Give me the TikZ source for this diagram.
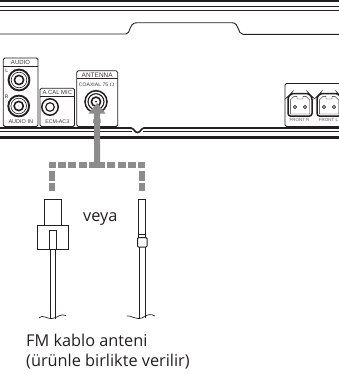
\documentclass[tikz,border=0pt]{standalone}
\usepackage{fontspec}
\setmainfont{Open Sans}
\newfontfamily\labfont{Liberation Sans}
\definecolor{ink}{HTML}{231F20}
\definecolor{arrowgray}{HTML}{8C8C8C}
\tikzset{
  panel/.style={draw=ink,line width=0.8pt,rounded corners=1.5pt},
  wire/.style={draw=ink,line width=1pt},
  band/.style={draw=ink,line width=#1},
  tiny/.style={font=\labfont\fontsize{#1}{#1}\selectfont,text=ink!90,inner sep=0pt},
  caption/.style={font=\fontsize{16.3}{20}\selectfont,text=ink,inner sep=0pt,anchor=base west},
  pointer/.style={draw=arrowgray,line width=5.6pt,dash pattern=on 8pt off 2.3pt},
  pointerend/.style={draw=arrowgray,line width=6pt,dash pattern=on 8pt off 2pt},
}
\newcommand{\rca}[2]{%
  \draw[ink,line width=1.9pt] (#1,#2) circle (10.4);
  \draw[ink,line width=0.6pt] (#1,#2) circle (7.8);
  \draw[ink,line width=1.6pt] (#1,#2) circle (4.6);
  \fill[ink] (#1,#2) circle (0.4);}
\newcommand{\optical}[1]{%
  \begin{scope}[shift={(#1,0)}]
    \draw[ink,line width=1.5pt,rounded corners=2.5pt] (0,116) -- (0,97) -- (3.5,93.5) -- (20.5,93.5) -- (24,97) -- (24,116) -- cycle;
    \draw[ink,line width=0.4pt] (2.3,114) -- (2.3,100) -- (6,96.3) -- (9,96.3) -- (9,99) -- (15,99) -- (15,96.3) -- (18,96.3) -- (21.7,100) -- (21.7,114) -- cycle;
    \draw[ink,line width=0.6pt] (7,107) circle (1.6) (17,107) circle (1.6);
  \end{scope}}
\begin{document}
\begin{tikzpicture}[x=1pt,y=-1pt]
\useasboundingbox (0,0) rectangle (339,375);
% top edge
\draw[band=2.6pt] (0,1) -- (339,1);
\draw[band=1pt] (0,6) -- (339,6);
\draw[band=1pt] (0,10) -- (339,10);
\draw[band=0.9pt] (0,34) -- (126,34) .. controls (131,34) and (128,23) .. (137,22.7) -- (232,22.7) .. controls (240,23) and (237,34) .. (243,34.3) -- (339,34.3);
% bottom band
\draw[band=1.6pt] (0,128) -- (131,128) .. controls (134,128.2) and (134.5,132.5) .. (137.5,132.5) .. controls (140.5,132.5) and (141,128.2) .. (144,128) -- (339,128);
\draw[band=1pt] (0,131.6) -- (132,131.6) (143,131.6) -- (339,131.6);
\draw[band=2.6pt] (0,137.5) -- (339,137.5);
% audio
\draw[panel] (3.3,126.5) -- (3.3,58) -- (38,58) -- (38,126.5) -- cycle;
\draw[band=0.8pt] (3.3,66) -- (38,66);
\node[tiny=6] (audio) at (20.5,62.3) {AUDIO};
\node[tiny=5] (l) at (6.8,70.5) {L};
\node[tiny=5] (r) at (6.8,97) {R};
\node[tiny=5.5] (audioin) at (20.8,122) {AUDIO IN};
\rca{19}{80}
\rca{18.7}{106}
% mic
\draw[panel] (40,126.5) -- (40,88.3) -- (74.5,88.3) -- (74.5,126.5) -- cycle;
\draw[band=0.8pt] (40,96.2) -- (74.5,96.2);
\node[tiny=5.9] (mic) at (57.3,92.2) {A.CAL MIC};
\node[tiny=5.3] (ecm) at (57.3,122) {ECM-AC3};
\draw[ink,line width=1.5pt] (50,107) circle (8.2);
\draw[ink,line width=1.2pt] (50,107) circle (4.3);
% antenna
\draw[panel] (76.7,126.5) -- (76.7,70.8) -- (117.7,70.8) -- (117.7,126.5) -- cycle;
\draw[band=0.8pt] (76.7,78.8) -- (117.7,78.8);
\node[tiny=6.5] (ant) at (97.2,74.8) {ANTENNA};
\node[tiny=5.1] (coax) at (96.7,84.3) {COAXIAL 75 $\Omega$};
\node[tiny=5.5] (fm) at (97,122) {FM};
\draw[ink,line width=1.5pt] (96,101.7) circle (11);
\draw[ink,line width=1.1pt] (96,101.7) circle (8);
\draw[ink,line width=1.6pt] (96,101.7) circle (4.6);
\fill[ink] (96,101.7) circle (1);
% front
\draw[panel] (339.5,83.5) -- (285,83.5) -- (285,126.5) -- (339.5,126.5);
\optical{288}
\optical{317}
\node[tiny=4.5,text=ink!75] (fr) at (299.5,120) {FRONT R};
\node[tiny=4.5,text=ink!75] (fl) at (328.5,120) {FRONT L};
% arrow and dashed routes
\coordinate (hub) at (97,165);
\coordinate (tip) at (97,103);
\coordinate (dl) at (52,191);
\coordinate (dr) at (142,191);
\path[fill=arrowgray] (tip) -- (105.5,113.5) -- (100,113.5) -- (100,165) -- (94,165) -- (94,113.5) -- (88.5,113.5) -- cycle;
\draw[pointer] (hub) -- (49.5,165);
\draw[pointer] (hub) -- (145,165);
\draw[pointerend] (52,162) -- (52,168);
\draw[pointerend] (142,162) -- (142,168);
\draw[pointerend,dash pattern=on 10pt off 2pt] (52,171) -- (dl);
\draw[pointerend,dash pattern=on 10pt off 2pt] (142,171) -- (dr);
% left plug
\draw[wire] (44.5,225) -- (44.5,199) -- (61.3,199) -- (61.3,225);
\draw[wire] (37.3,225) rectangle (68.3,249.3);
\draw[wire] (49,249.3) -- (49,230) -- (56.5,230) -- (56.5,249.3);
\draw[wire] (50,249.3) -- (50,318.5);
\draw[wire] (55.3,249.3) -- (55.3,318.5);
\draw[band=0.7pt] (39,318) .. controls (43,314) and (46,319) .. (52,318.5) .. controls (58,318) and (60,313) .. (66,315.5);
% right plug
\draw[band=0.8pt] (138.3,237.7) -- (138.3,199) -- (145.7,199) -- (145.7,237.7);
\draw[band=0.6pt] (138.3,234) -- (145.7,234);
\draw[wire,rounded corners=1pt] (137.5,237.7) rectangle (147,247);
\draw[wire] (139.5,247) -- (139.5,318);
\draw[wire] (145,247) -- (145,318);
\draw[band=0.7pt] (127,316) .. controls (131,315) and (135,320) .. (142,318) .. controls (147,315) and (150,313) .. (155,316);
% text
\node[caption] (veya) at (83,221) {veya};
\node[caption] (t1) at (26,346) {FM kablo anteni};
\node[caption] (t2) at (26,366) {(ürünle birlikte verilir)};
\end{tikzpicture}
\end{document}
